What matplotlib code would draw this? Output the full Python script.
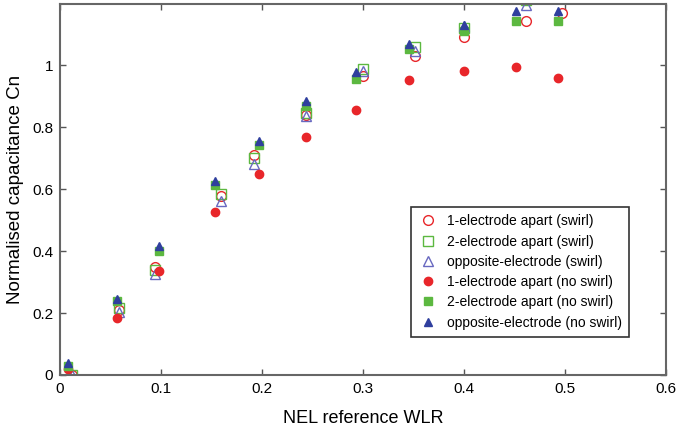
import numpy as np
import matplotlib
matplotlib.use('Agg')
import matplotlib.pyplot as plt

plt.rcParams['font.family'] = ['Liberation Sans', 'DejaVu Sans']

# WLR positions of the two test sets
wlr_swirl = [0.012, 0.058, 0.094, 0.159, 0.192, 0.244, 0.300, 0.351, 0.400, 0.461, 0.497]
wlr_noswirl = [0.008, 0.056, 0.098, 0.153, 0.197, 0.244, 0.293, 0.346, 0.400, 0.452, 0.493]

# normalised capacitance, swirl (open markers)
cn_1apart_swirl = [0.0, 0.21, 0.35, 0.577, 0.71, 0.84, 0.967, 1.031, 1.09, 1.142, 1.169]
cn_2apart_swirl = [0.0, 0.217, 0.34, 0.583, 0.70, 0.846, 0.989, 1.058, 1.12, 1.21, 1.22]
cn_opp_swirl = [0.0, 0.203, 0.325, 0.561, 0.68, 0.835, 0.983, 1.045, 1.126, 1.196, 1.23]

# normalised capacitance, no swirl (filled markers)
cn_1apart_noswirl = [0.02, 0.185, 0.335, 0.526, 0.649, 0.768, 0.855, 0.952, 0.981, 0.995, 0.959]
cn_2apart_noswirl = [0.03, 0.239, 0.40, 0.612, 0.742, 0.87, 0.957, 1.054, 1.11, 1.142, 1.142]
cn_opp_noswirl = [0.04, 0.246, 0.416, 0.626, 0.757, 0.886, 0.977, 1.069, 1.131, 1.174, 1.174]

labels = ['1-electrode apart (swirl)', '2-electrode apart (swirl)',
          'opposite-electrode (swirl)', '1-electrode apart (no swirl)',
          '2-electrode apart (no swirl)', 'opposite-electrode (no swirl)']

RED = '#e8262a'
GREEN = '#5cb840'
BLUE = '#2f3f9e'
LBLUE = '#6868c0'

fig = plt.figure(figsize=(6.83, 4.34), dpi=100)
ax = fig.add_axes([0.088, 0.136, 0.887, 0.854])

ax.plot(wlr_swirl, cn_1apart_swirl, 'o', mfc='none', mec=RED, ms=7, mew=1.0, label=labels[0])
ax.plot(wlr_swirl, cn_2apart_swirl, 's', mfc='none', mec=GREEN, ms=7, mew=1.0, label=labels[1])
ax.plot(wlr_swirl, cn_opp_swirl, '^', mfc='none', mec=LBLUE, ms=7.5, mew=1.0, label=labels[2])
ax.plot(wlr_noswirl, cn_1apart_noswirl, 'o', color=RED, ms=6, label=labels[3])
ax.plot(wlr_noswirl, cn_2apart_noswirl, 's', color=GREEN, ms=6, label=labels[4])
ax.plot(wlr_noswirl, cn_opp_noswirl, '^', color=BLUE, ms=6, label=labels[5])

ax.set_xlim(0, 0.6)
ax.set_ylim(0, 1.197)
ax.set_xticks(np.arange(0, 0.61, 0.1))
ax.set_xticklabels(['0', '0.1', '0.2', '0.3', '0.4', '0.5', '0.6'])
ax.set_yticks([0, 0.2, 0.4, 0.6, 0.8, 1.0])
ax.set_yticklabels(['0', '0.2', '0.4', '0.6', '0.8', '1'])
ax.tick_params(direction='in', top=True, right=True, length=4, width=1,
               color='#555555', labelsize=11, pad=5)
for s in ax.spines.values():
    s.set_color('#666666')
    s.set_linewidth(1.5)

ax.set_xlabel('NEL reference WLR', fontsize=13, labelpad=10)
ax.set_ylabel('Normalised capacitance Cn', fontsize=13.5, labelpad=6)

leg = ax.legend(loc='lower right', bbox_to_anchor=(0.95, 0.085), fontsize=10,
                frameon=True, fancybox=False, edgecolor='black',
                handletextpad=0.6, labelspacing=0.45, borderpad=0.5,
                handlelength=1.5)
leg.get_frame().set_linewidth(1.2)

fig.savefig('out.png', dpi=100)
